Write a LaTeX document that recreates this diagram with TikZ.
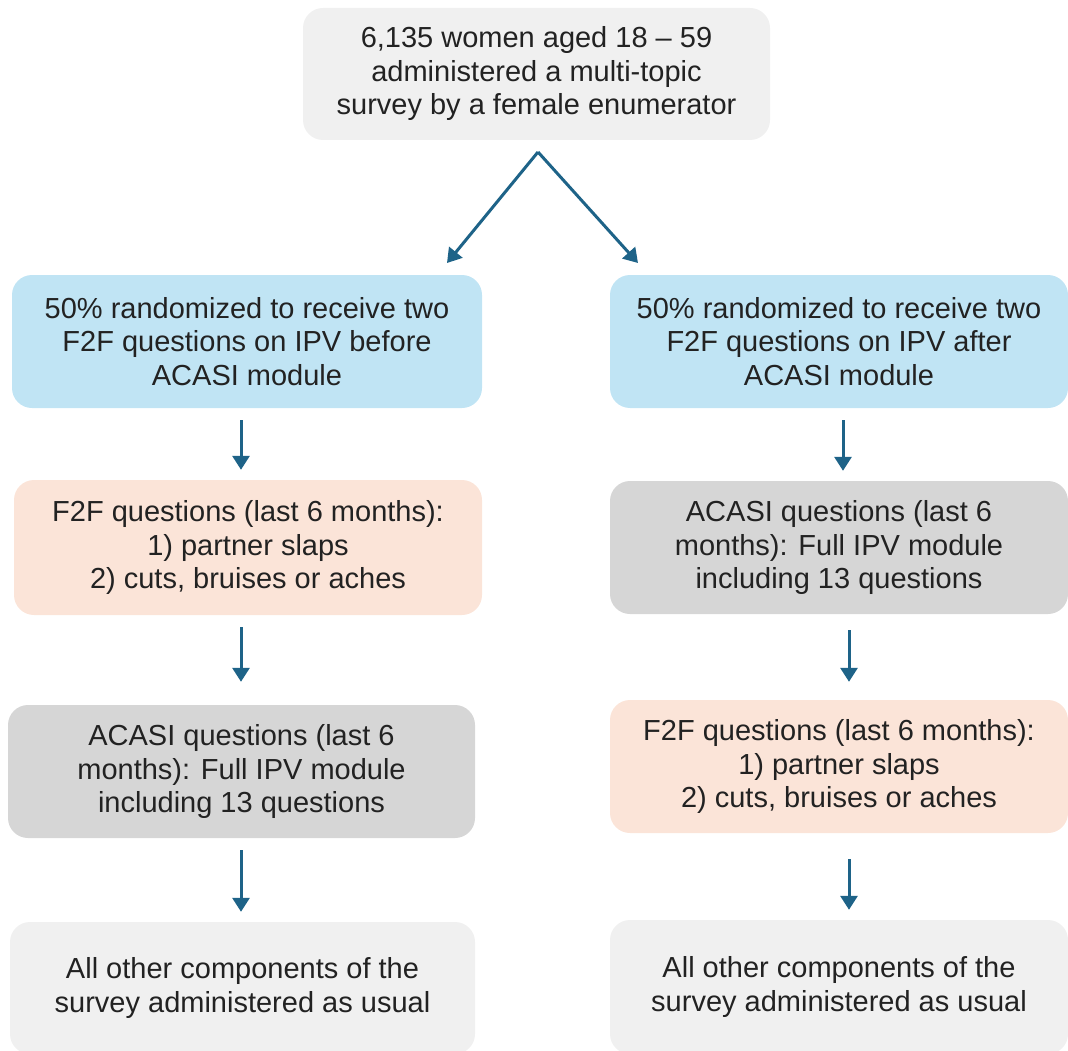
\documentclass[tikz,border=0pt]{standalone}
\usepackage{fontspec}
\setmainfont{Liberation Sans}
\usetikzlibrary{arrows.meta,calc}
\definecolor{lgray}{HTML}{F0F0F0}
\definecolor{dgray}{HTML}{D6D6D6}
\definecolor{lblue}{HTML}{C0E4F4}
\definecolor{peach}{HTML}{FBE4D8}
\definecolor{arrowc}{HTML}{1E6388}
\definecolor{txt}{HTML}{222222}
\tikzset{
  box/.style={rounded corners=20pt, draw=none, align=center, inner sep=0pt, text=txt,
    font=\fontsize{29}{33.5}\selectfont},
  arr/.style={draw=arrowc, line width=3pt, -{Triangle[length=14pt,width=17pt]}},
}
\begin{document}
\begin{tikzpicture}[x=1pt,y=-1pt]
\useasboundingbox (0,0) rectangle (1068,1051);
% boxes: center x, center y, width, height
\node[box, fill=lgray, minimum width=467pt, minimum height=132pt] (top) at (536.5,74)
  {6,135 women aged 18 -- 59\\administered a multi-topic\\survey by a female enumerator};
\node[box, fill=lblue, minimum width=470pt, minimum height=133pt] (b1) at (247,341.5)
  {50\% randomized to receive two\\F2F questions on IPV before\\ACASI module};
\node[box, fill=lblue, minimum width=458pt, minimum height=133pt] (b2) at (839,341.5)
  {50\% randomized to receive two\\F2F questions on IPV after\\ACASI module};
\node[box, fill=peach, minimum width=468pt, minimum height=135pt] (p1) at (248,547.5)
  {F2F questions (last 6 months):\\1) partner slaps\\2) cuts, bruises or aches};
\node[box, fill=dgray, minimum width=458pt, minimum height=133pt] (g2) at (839,547.5)
  {ACASI questions (last 6\\months): Full IPV module\\including 13 questions};
\node[box, fill=dgray, minimum width=467pt, minimum height=133pt] (g1) at (241.5,771.5)
  {ACASI questions (last 6\\months): Full IPV module\\including 13 questions};
\node[box, fill=peach, minimum width=458pt, minimum height=133pt] (p2) at (839,766.5)
  {F2F questions (last 6 months):\\1) partner slaps\\2) cuts, bruises or aches};
\node[box, fill=lgray, minimum width=465pt, minimum height=132pt] (e1) at (242.5,988)
  {All other components of the\\survey administered as usual};
\node[box, fill=lgray, minimum width=458pt, minimum height=134pt] (e2) at (839,987)
  {All other components of the\\survey administered as usual};
% split arrows
\coordinate (split) at (538,152);
\coordinate (tl) at (447,263);
\coordinate (tr) at (638,263);
\draw[arr] (split) -- (tl);
\draw[arr] (split) -- (tr);
% left column
\draw[arr] ([yshift=-12pt]b1.south -| 241,0) -- ([yshift=10pt]p1.north -| 241,0);
\draw[arr] ([yshift=-12pt]p1.south -| 241,0) -- ([yshift=23pt]g1.north -| 241,0);
\draw[arr] ([yshift=-12pt]g1.south -| 241,0) -- ([yshift=10pt]e1.north -| 241,0);
% right column
\draw[arr] ([yshift=-12pt]b2.south -| 843,0) -- ([yshift=10pt]g2.north -| 843,0);
\draw[arr] ([yshift=-16pt]g2.south -| 849,0) -- ([yshift=18pt]p2.north -| 849,0);
\draw[arr] ([yshift=-26pt]p2.south -| 849,0) -- ([yshift=10pt]e2.north -| 849,0);
\end{tikzpicture}
\end{document}
